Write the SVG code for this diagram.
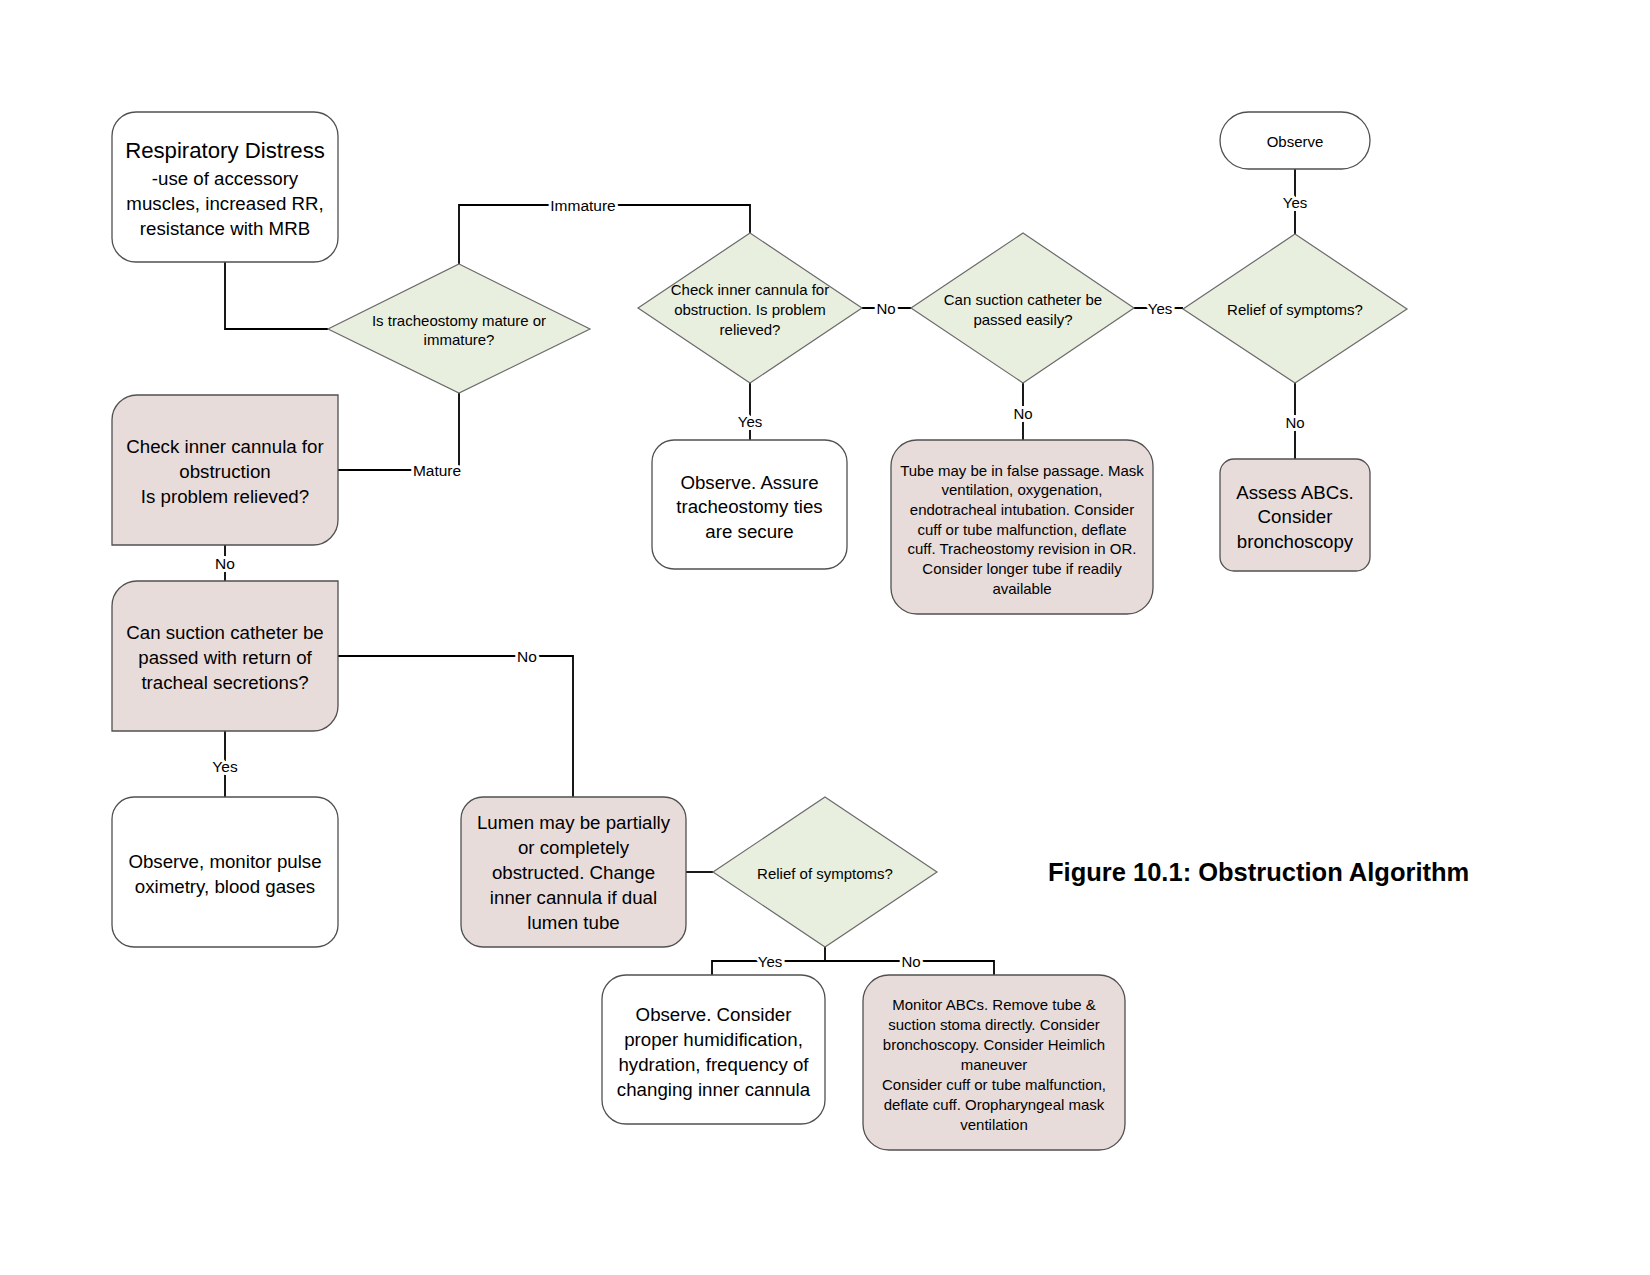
<svg xmlns="http://www.w3.org/2000/svg" width="1650" height="1275" viewBox="0 0 1650 1275">
<style>
.bg{fill:#ffffff}
.w{fill:#ffffff;stroke:#505050;stroke-width:1.3}
.p{fill:#e8dcda;stroke:#505050;stroke-width:1.3}
.d{fill:#e9efdf;stroke:#6a6a6a;stroke-width:1.2}
.c{fill:none;stroke:#000000;stroke-width:1.8}
text{fill:#000000;text-anchor:middle;dominant-baseline:central}
.t{font-family:"Liberation Sans",Arial,sans-serif;font-size:18.7px}
.h{font-family:"Liberation Sans",Arial,sans-serif;font-size:22.2px}
.n{font-family:"Liberation Sans",Arial,sans-serif;font-size:15px}
.l{font-family:"Liberation Sans",Arial,sans-serif;font-size:15.5px;stroke:#ffffff;stroke-width:6;paint-order:stroke;stroke-linejoin:round}
.ln{font-family:"Liberation Sans",Arial,sans-serif;font-size:15px;stroke:#ffffff;stroke-width:6;paint-order:stroke;stroke-linejoin:round}
.title{font-family:"Liberation Sans",Arial,sans-serif;font-size:25.5px;font-weight:bold;text-anchor:start}
</style>
<rect class="bg" x="0" y="0" width="1650" height="1275"/>

<g id="connectors">
  <path class="c" d="M225,262 V329 H328"/>
  <path class="c" d="M459,264 V205 H750 V233"/>
  <path class="c" d="M459,393 V470 H338"/>
  <path class="c" d="M225,545 V581"/>
  <path class="c" d="M225,731 V797"/>
  <path class="c" d="M338,656 H573 V797"/>
  <path class="c" d="M686,872 H713"/>
  <path class="c" d="M825,947 V961"/>
  <path class="c" d="M712,975 V961 H994 V975"/>
  <path class="c" d="M750,383 V440"/>
  <path class="c" d="M862,308 H911"/>
  <path class="c" d="M1023,383 V440"/>
  <path class="c" d="M1134,308 H1183"/>
  <path class="c" d="M1295,234 V169"/>
  <path class="c" d="M1295,383 V459"/>
  <text class="l" x="583" y="205">Immature</text>
  <text class="l" x="437" y="470">Mature</text>
  <text class="l" x="225" y="563">No</text>
  <text class="l" x="225" y="766">Yes</text>
  <text class="l" x="527" y="656">No</text>
  <text class="ln" x="770" y="961">Yes</text>
  <text class="ln" x="911" y="961">No</text>
  <text class="ln" x="750" y="421">Yes</text>
  <text class="ln" x="886" y="308">No</text>
  <text class="ln" x="1023" y="413">No</text>
  <text class="ln" x="1160" y="308">Yes</text>
  <text class="ln" x="1295" y="202">Yes</text>
  <text class="ln" x="1295" y="422">No</text>
</g>

<g id="respiratory-distress">
  <rect class="w" x="112" y="112" width="226" height="150" rx="24"/>
  <text class="h" x="225" y="150">Respiratory Distress</text>
  <text class="t" x="225" y="178">-use of accessory</text>
  <text class="t" x="225" y="203">muscles, increased RR,</text>
  <text class="t" x="225" y="228">resistance with MRB</text>
</g>

<g id="q-mature">
  <polygon class="d" points="459,264 590,329 459,393 328,329"/>
  <text class="n" x="459" y="320">Is tracheostomy mature or</text>
  <text class="n" x="459" y="339">immature?</text>
</g>

<g id="check-cannula-box">
  <path class="p" d="M137,395 H338 V520 A25,25 0 0 1 313,545 H112 V420 A25,25 0 0 1 137,395 Z"/>
  <text class="t" x="225" y="446">Check inner cannula for</text>
  <text class="t" x="225" y="471">obstruction</text>
  <text class="t" x="225" y="496">Is problem relieved?</text>
</g>

<g id="suction-box">
  <path class="p" d="M137,581 H338 V706 A25,25 0 0 1 313,731 H112 V606 A25,25 0 0 1 137,581 Z"/>
  <text class="t" x="225" y="632">Can suction catheter be</text>
  <text class="t" x="225" y="657">passed with return of</text>
  <text class="t" x="225" y="682">tracheal secretions?</text>
</g>

<g id="observe-monitor">
  <rect class="w" x="112" y="797" width="226" height="150" rx="22"/>
  <text class="t" x="225" y="861">Observe, monitor pulse</text>
  <text class="t" x="225" y="886">oximetry, blood gases</text>
</g>

<g id="lumen-box">
  <rect class="p" x="461" y="797" width="225" height="150" rx="22"/>
  <text class="t" x="573.5" y="822">Lumen may be partially</text>
  <text class="t" x="573.5" y="847">or completely</text>
  <text class="t" x="573.5" y="872">obstructed. Change</text>
  <text class="t" x="573.5" y="897">inner cannula if dual</text>
  <text class="t" x="573.5" y="922">lumen tube</text>
</g>

<g id="q-relief-bottom">
  <polygon class="d" points="825,797 937,872 825,947 713,872"/>
  <text class="n" x="825" y="873">Relief of symptoms?</text>
</g>

<g id="observe-consider">
  <rect class="w" x="602" y="975" width="223" height="149" rx="24"/>
  <text class="t" x="713.5" y="1014">Observe. Consider</text>
  <text class="t" x="713.5" y="1039">proper humidification,</text>
  <text class="t" x="713.5" y="1064">hydration, frequency of</text>
  <text class="t" x="713.5" y="1089">changing inner cannula</text>
</g>

<g id="monitor-abcs">
  <rect class="p" x="863" y="975" width="262" height="175" rx="26"/>
  <text class="n" x="994" y="1004">Monitor ABCs. Remove tube &amp;</text>
  <text class="n" x="994" y="1024">suction stoma directly. Consider</text>
  <text class="n" x="994" y="1044">bronchoscopy. Consider Heimlich</text>
  <text class="n" x="994" y="1064">maneuver</text>
  <text class="n" x="994" y="1084">Consider cuff or tube malfunction,</text>
  <text class="n" x="994" y="1104">deflate cuff. Oropharyngeal mask</text>
  <text class="n" x="994" y="1124">ventilation</text>
</g>

<g id="q-check-cannula">
  <polygon class="d" points="750,233 862,308 750,383 638,308"/>
  <text class="n" x="750" y="289">Check inner cannula for</text>
  <text class="n" x="750" y="309">obstruction. Is problem</text>
  <text class="n" x="750" y="329">relieved?</text>
</g>

<g id="observe-assure">
  <rect class="w" x="652" y="440" width="195" height="129" rx="22"/>
  <text class="t" x="749.5" y="482">Observe. Assure</text>
  <text class="t" x="749.5" y="506">tracheostomy ties</text>
  <text class="t" x="749.5" y="531">are secure</text>
</g>

<g id="q-suction-easy">
  <polygon class="d" points="1023,233 1134,308 1023,383 911,308"/>
  <text class="n" x="1023" y="299">Can suction catheter be</text>
  <text class="n" x="1023" y="319">passed easily?</text>
</g>

<g id="false-passage">
  <rect class="p" x="891" y="440" width="262" height="174" rx="26"/>
  <text class="n" x="1022" y="470">Tube may be in false passage. Mask</text>
  <text class="n" x="1022" y="489.7">ventilation, oxygenation,</text>
  <text class="n" x="1022" y="509.4">endotracheal intubation. Consider</text>
  <text class="n" x="1022" y="529.1">cuff or tube malfunction, deflate</text>
  <text class="n" x="1022" y="548.8">cuff. Tracheostomy revision in OR.</text>
  <text class="n" x="1022" y="568.5">Consider longer tube if readily</text>
  <text class="n" x="1022" y="588.2">available</text>
</g>

<g id="q-relief-top">
  <polygon class="d" points="1295,234 1407,309 1295,383 1183,309"/>
  <text class="n" x="1295" y="309">Relief of symptoms?</text>
</g>

<g id="observe-top">
  <rect class="w" x="1220" y="112" width="150" height="57" rx="28.5"/>
  <text class="n" x="1295" y="141">Observe</text>
</g>

<g id="assess-abcs">
  <rect class="p" x="1220" y="459" width="150" height="112" rx="14"/>
  <text class="t" x="1295" y="492">Assess ABCs.</text>
  <text class="t" x="1295" y="516">Consider</text>
  <text class="t" x="1295" y="541">bronchoscopy</text>
</g>

<g id="figure-title">
  <text class="title" x="1048" y="872">Figure 10.1: Obstruction Algorithm</text>
</g>
</svg>
